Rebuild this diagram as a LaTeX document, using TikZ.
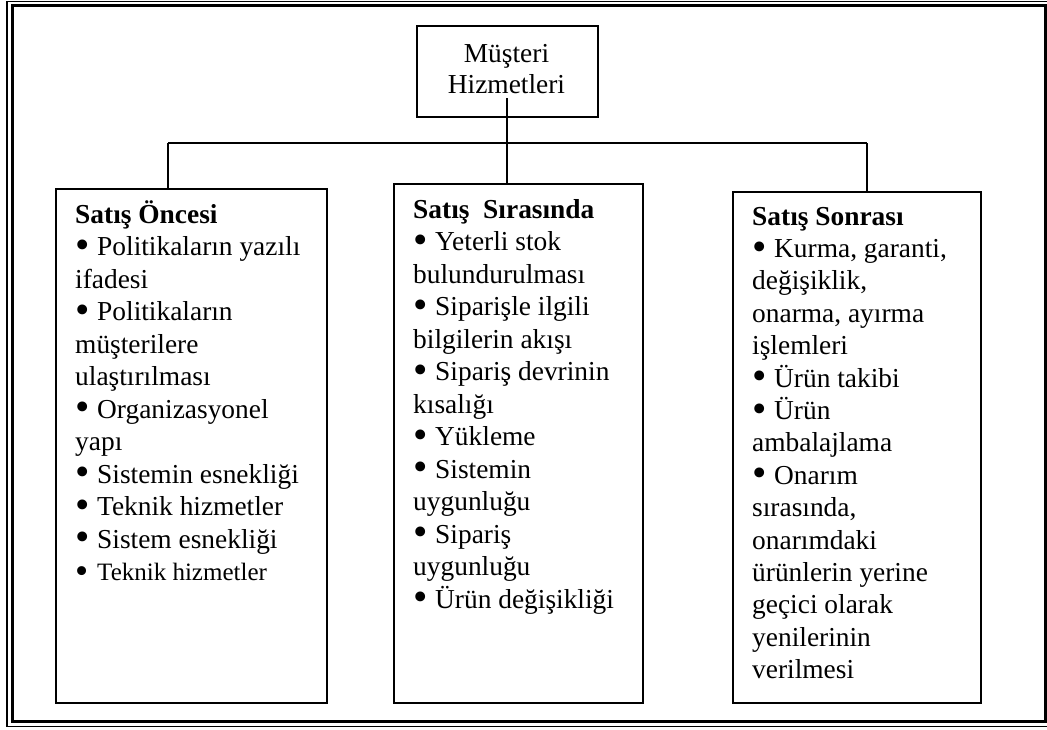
\documentclass[tikz,border=0pt]{standalone}
\usepackage{fontspec}
\setmainfont{Liberation Serif}
% bullet followed by a fixed gap before the item text
\newcommand\bul{\makebox[22pt][l]{\makebox[0pt][l]{\raisebox{-2.6pt}{\scalebox{1.5}{•}}}}}
\newcommand\bodyfont{\fontsize{27.4pt}{32.5pt}\selectfont}
\begin{document}
\begin{tikzpicture}[x=1pt,y=-1pt,
  panel/.style={draw, line width=1.6pt, inner sep=0pt, anchor=north west},
  link/.style={line width=1.5pt},
  body/.style={anchor=base west, inner sep=0pt}]
\useasboundingbox (0,0) rectangle (1047,729);

% double page frame
\begin{scope}
  \clip (0,0) rectangle (1047,729);
  \draw[line width=1.4pt] (7,1.5) rectangle (1051,726.5);
  \draw[line width=3pt] (12.5,5) rectangle (1045.5,721.5);
\end{scope}

% boxes
\node[panel, line width=1.5pt, minimum width=181pt, minimum height=91pt] (top) at (416,25) {};
\node[panel, minimum width=271pt, minimum height=514pt] (lbox) at (55,188) {};
\node[panel, minimum width=249pt, minimum height=519pt] (mbox) at (393,183) {};
\node[panel, minimum width=248pt, minimum height=511pt] (rbox) at (732,191) {};

% title
\node[anchor=base, inner sep=0pt] (title) at (506.5,62)
  {\parbox[t]{175pt}{\centering\fontsize{27.4pt}{31pt}\selectfont Müşteri\\Hizmetleri}};

% connectors
\coordinate (stem) at (507,98);
\coordinate (jl) at (168,143);
\coordinate (jr) at (867,143);
\draw[link] (stem) -- (stem |- mbox.north);
\draw[link] (jl) -- (jr);
\draw[link] (jl) -- (jl |- lbox.north);
\draw[link] (jr) -- (jr |- rbox.north);

% box contents
\node[body] (ltext) at (75,223) {\parbox[t]{245pt}{\bodyfont
  \textbf{Satış Öncesi}\\
  \bul Politikaların yazılı\\
  ifadesi\\
  \bul Politikaların\\
  müşterilere\\
  ulaştırılması\\
  \bul Organizasyonel\\
  yapı\\
  \bul Sistemin esnekliği\\
  \bul Teknik hizmetler\\
  \bul Sistem esnekliği\\
  {\fontsize{25pt}{32.5pt}\selectfont\bul Teknik hizmetler}}};

\node[body] (mtext) at (413,218) {\parbox[t]{225pt}{\bodyfont
  \textbf{Satış\ \ Sırasında}\\
  \bul Yeterli stok\\
  bulundurulması\\
  \bul Siparişle ilgili\\
  bilgilerin akışı\\
  \bul Sipariş devrinin\\
  kısalığı\\
  \bul Yükleme\\
  \bul Sistemin\\
  uygunluğu\\
  \bul Sipariş\\
  uygunluğu\\
  \bul Ürün değişikliği}};

\node[body] (rtext) at (752,225) {\parbox[t]{225pt}{\fontsize{27.4pt}{32.4pt}\selectfont
  \textbf{Satış Sonrası}\\
  \bul Kurma, garanti,\\
  değişiklik,\\
  onarma, ayırma\\
  işlemleri\\
  \bul Ürün takibi\\
  \bul Ürün\\
  ambalajlama\\
  \bul Onarım\\
  sırasında,\\
  onarımdaki\\
  ürünlerin yerine\\
  geçici olarak\\
  yenilerinin\\
  verilmesi}};
\end{tikzpicture}
\end{document}
